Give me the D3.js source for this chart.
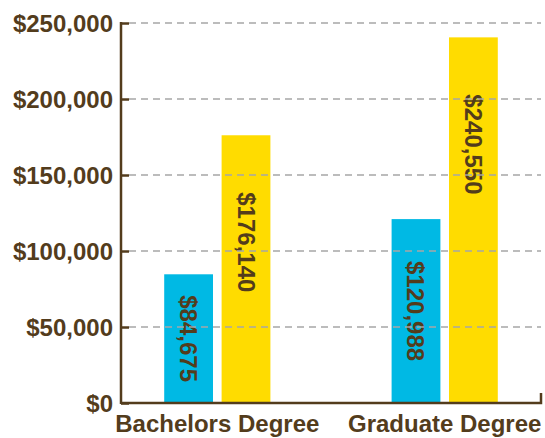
<!DOCTYPE html>
<html>
<head>
<meta charset="utf-8">
<script src="https://cdn.jsdelivr.net/npm/d3@7"></script>
<style>
  body { margin: 0; background: #fff; }
  text { font-family: "Liberation Sans", Arial, sans-serif; font-weight: bold; }
</style>
</head>
<body>
<div id="graph"></div>
<script>
var categories = ["Bachelors Degree", "Graduate Degree"];
var seriesNames = ["first", "second"];
var firstValues = [84675, 120988];
var secondValues = [176140, 240550];
var yTicks = [0, 50000, 100000, 150000, 200000, 250000];

var brown = "#533c1c",
    colours = ["#00b9e4", "#ffdc00"];

var margin = {top: 23, right: 4, bottom: 35, left: 121};
var width = 545 - margin.left - margin.right,
    height = 438 - margin.top - margin.bottom;

var svg = d3.select("#graph")
    .append("svg")
    .attr("width", 545)
    .attr("height", 438)
    .append("g")
    .attr("transform", "translate(" + margin.left + "," + margin.top + ")");

var x0 = d3.scaleBand()
    .domain(categories)
    .range([0, width])
    .paddingInner(0.533)
    .paddingOuter(0.19);

var x1 = d3.scaleBand()
    .domain(seriesNames)
    .range([0, x0.bandwidth()])
    .paddingInner(0.15);

var y = d3.scaleLinear()
    .domain([0, 250000])
    .range([height, 0]);

var rows = categories.map(function (c, i) {
    return {cat: c, values: [firstValues[i], secondValues[i]]};
});

// bars
var groups = svg.selectAll(".grp")
    .data(rows)
    .enter().append("g")
    .attr("transform", function (d) { return "translate(" + x0(d.cat) + ",0)"; });

groups.selectAll("rect")
    .data(function (d) { return d.values.map(function (v, i) { return {s: seriesNames[i], v: v, i: i}; }); })
    .enter().append("rect")
    .attr("x", function (d) { return x1(d.s); })
    .attr("width", x1.bandwidth())
    .attr("y", function (d) { return y(d.v); })
    .attr("height", function (d) { return height - y(d.v); })
    .style("fill", function (d) { return colours[d.i]; });

// dashed grid over the bars
svg.append("g")
    .selectAll("line")
    .data(yTicks.slice(1))
    .enter().append("line")
    .attr("x1", 8)
    .attr("x2", width)
    .attr("y1", function (d) { return y(d); })
    .attr("y2", function (d) { return y(d); })
    .style("stroke", "#a6a6a6")
    .style("stroke-width", 1.5)
    .style("stroke-dasharray", "7,5");

// bar value labels, rotated
var fmt = d3.format("$,");
groups.selectAll(".lbl")
    .data(function (d) { return d.values.map(function (v, i) { return {s: seriesNames[i], v: v}; }); })
    .enter().append("text")
    .attr("class", "lbl")
    .style("font-size", "24px")
    .style("fill", brown)
    .attr("text-anchor", "middle")
    .attr("dominant-baseline", "central")
    .text(function (d) { return fmt(d.v); })
    .attr("transform", function (d) {
        var half = this.getComputedTextLength() / 2;
        var cy = Math.min((y(d.v) + height) / 2, y(d.v) + 57 + half);
        return "translate(" + (x1(d.s) + x1.bandwidth() / 2) + "," + cy + ") rotate(90)";
    });

// y axis
var yAxis = d3.axisLeft(y)
    .tickValues(yTicks)
    .tickSize(-8)
    .tickPadding(8)
    .tickFormat(d3.format("$,"));

var yG = svg.append("g").call(yAxis);
yG.select(".domain").remove();
yG.selectAll(".tick line").style("stroke", brown).style("stroke-width", 2.5);
yG.selectAll(".tick text")
    .style("font-size", "24px")
    .style("fill", brown)
    .attr("dy", "0.35em");
yG.append("line")
    .attr("x1", 0).attr("x2", 0)
    .attr("y1", y(250000) - 1).attr("y2", height + 1)
    .style("stroke", brown).style("stroke-width", 2.5);

// x axis
var xAxis = d3.axisBottom(x0)
    .tickSize(0)
    .tickPadding(12);
var xG = svg.append("g")
    .attr("transform", "translate(0," + height + ")")
    .call(xAxis);
xG.select(".domain").remove();
xG.selectAll(".tick text")
    .style("font-size", "24px")
    .style("fill", brown);
xG.append("path")
    .attr("d", "M0,0H" + width + "V-10")
    .style("fill", "none")
    .style("stroke", brown)
    .style("stroke-width", 2.5);
</script>
</body>
</html>
